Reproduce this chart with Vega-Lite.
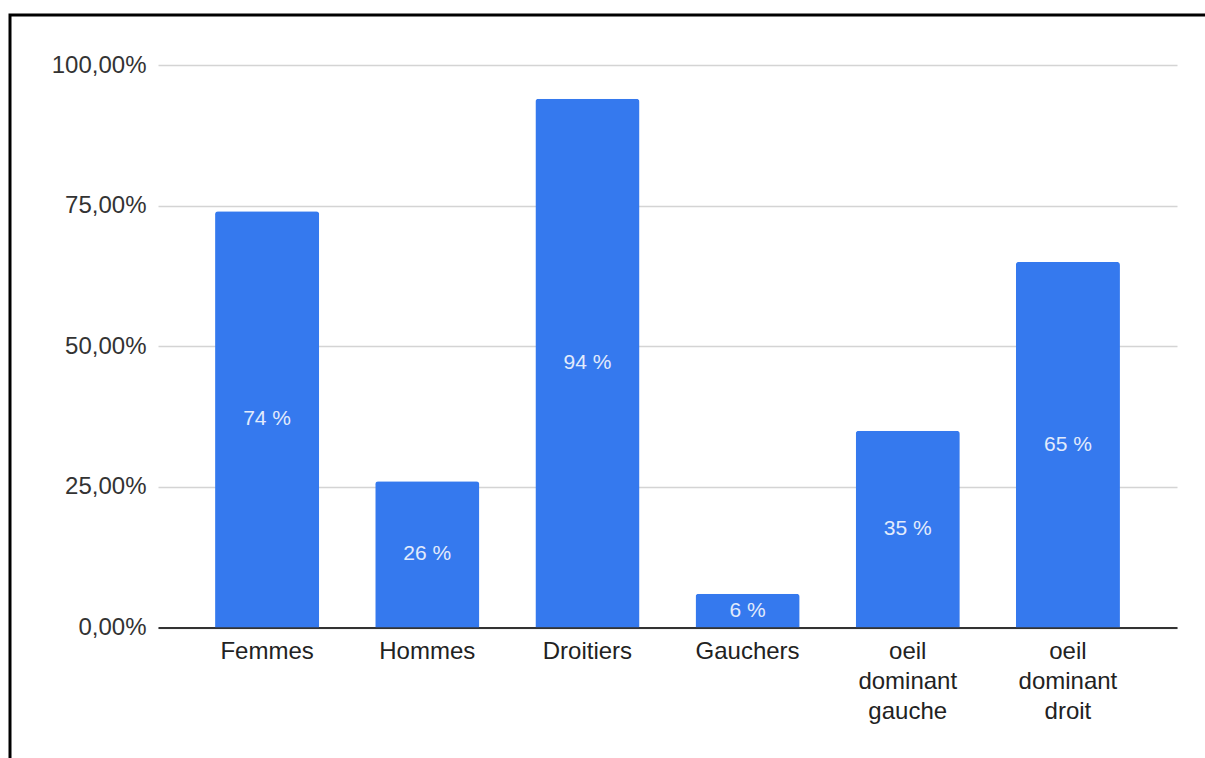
{
  "$schema": "https://vega.github.io/schema/vega-lite/v6.json",
  "width": 1195,
  "height": 743,
  "autosize": {"type": "none"},
  "padding": {"left": 10, "top": 15, "right": 0, "bottom": 0},
  "background": "white",
  "config": {
    "view": {"stroke": null},
    "font": "Liberation Sans",
    "locale": {
      "number": {
        "decimal": ",",
        "thousands": " ",
        "grouping": [3],
        "currency": ["", " €"],
        "percent": " %"
      }
    }
  },
  "layer": [
    {
      "data": {
        "values": [
          {"categorie": "Femmes", "part": 0.74},
          {"categorie": "Hommes", "part": 0.26},
          {"categorie": "Droitiers", "part": 0.94},
          {"categorie": "Gauchers", "part": 0.06},
          {"categorie": "oeil dominant gauche", "part": 0.35},
          {"categorie": "oeil dominant droit", "part": 0.65}
        ]
      },
      "transform": [{"calculate": "datum.part / 2", "as": "milieu"}],
      "encoding": {
        "x": {
          "field": "categorie",
          "type": "nominal",
          "sort": null,
          "scale": {"range": [148, 1167], "paddingInner": 0.35, "paddingOuter": 0.35625},
          "axis": {
            "title": null,
            "orient": "bottom",
            "offset": -130.5,
            "domainColor": "#333333",
            "domainWidth": 2,
            "ticks": false,
            "tickSize": 0,
            "labelAngle": 0,
            "labelPadding": 12,
            "labelFontSize": 24,
            "labelColor": "#222222",
            "labelLineHeight": 30,
            "labelExpr": "split(datum.label, ' ')",
            "grid": false
          }
        }
      },
      "layer": [
        {
          "mark": {
            "type": "bar",
            "color": "#3579ee",
            "cornerRadiusTopLeft": 3,
            "cornerRadiusTopRight": 3
          },
          "encoding": {
            "y": {
              "field": "part",
              "type": "quantitative",
              "scale": {"domain": [0, 1], "range": [612.5, 50], "nice": false, "zero": true},
              "axis": {
                "title": null,
                "orient": "left",
                "offset": -148,
                "values": [0, 0.25, 0.5, 0.75, 1],
                "format": ".2%",
                "labelExpr": "replace(datum.label, ' ', '')",
                "domain": false,
                "ticks": false,
                "tickSize": 0,
                "labelPadding": 12,
                "labelFontSize": 24,
                "labelColor": "#333333",
                "grid": true,
                "gridColor": "#d4d4d4",
                "gridWidth": 1.5
              }
            }
          }
        },
        {
          "mark": {
            "type": "text",
            "color": "#e2ebfc",
            "fontSize": 21,
            "baseline": "middle",
            "align": "center"
          },
          "encoding": {
            "y": {"field": "milieu", "type": "quantitative"},
            "text": {"field": "part", "type": "quantitative", "format": ".0%"}
          }
        }
      ]
    },
    {
      "data": {"values": [{}]},
      "mark": {"type": "rect", "fill": null, "stroke": "#000000", "strokeWidth": 3},
      "encoding": {
        "x": {"datum": 0, "type": "quantitative", "scale": {"domain": [0, 1], "nice": false}, "axis": null},
        "x2": {"datum": 1.02},
        "y": {"datum": 1, "type": "quantitative", "scale": {"domain": [0, 1], "nice": false}, "axis": null},
        "y2": {"datum": -0.02}
      }
    }
  ],
  "resolve": {"scale": {"x": "independent", "y": "independent"}, "axis": {"x": "independent", "y": "independent"}}
}
